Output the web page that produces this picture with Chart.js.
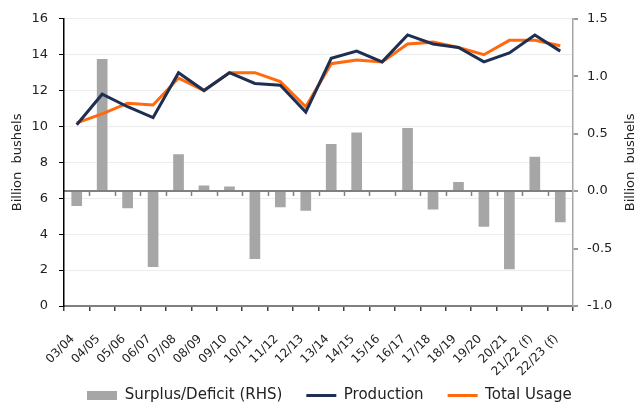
<!DOCTYPE html>
<html>
<head>
<meta charset="utf-8">
<script src="https://cdn.jsdelivr.net/npm/chart.js@4"></script>
<style>
  html, body { margin: 0; padding: 0; background: #fff; }
  #wrap { width: 639px; height: 407px; }
</style>
</head>
<body>
<div id="wrap"><canvas id="chart"></canvas></div>
<script>
const years = ['03/04','04/05','05/06','06/07','07/08','08/09','09/10','10/11','11/12','12/13',
  '13/14','14/15','15/16','16/17','17/18','18/19','19/20','20/21','21/22 (f)','22/23 (f)'];
const production = [10.1,11.8,11.1,10.5,13.0,12.0,13.0,12.4,12.3,10.8,13.8,14.2,13.6,15.1,14.6,14.4,13.6,14.1,15.1,14.2];
const totalUsage = [10.2,10.7,11.3,11.2,12.7,12.0,13.0,13.0,12.5,11.1,13.5,13.7,13.6,14.6,14.7,14.4,14.0,14.8,14.8,14.5];
const surplus = [-0.13,1.15,-0.15,-0.66,0.32,0.05,0.04,-0.59,-0.14,-0.17,0.41,0.51,0.01,0.55,-0.16,0.08,-0.31,-0.68,0.30,-0.27];

const FONT = 'DejaVu Sans, Verdana, sans-serif';

// legend swatch for the bars
const barSwatch = document.createElement('canvas');
barSwatch.width = 30; barSwatch.height = 9;
barSwatch.getContext('2d').fillStyle = '#a6a6a6';
barSwatch.getContext('2d').fillRect(0, 0, 30, 9);

// small ticks hanging off the zero line of the right axis
const zeroTicks = {
  id: 'zeroTicks',
  afterDatasetsDraw(chart) {
    const {ctx, scales: {x, y1}} = chart;
    const y0 = y1.getPixelForValue(0);
    ctx.save();
    ctx.strokeStyle = '#808080';
    ctx.lineWidth = 1.5;
    ctx.beginPath();
    for (let i = 1; i < years.length; i++) {
      const px = Math.round((x.getPixelForValue(i - 1) + x.getPixelForValue(i)) / 2) + 0.5;
      ctx.moveTo(px, y0);
      ctx.lineTo(px, y0 + 5);
    }
    ctx.stroke();
    ctx.restore();
  }
};

// right axis title reads bottom to top like the left one
const rightTitle = {
  id: 'rightTitle',
  afterDraw(chart) {
    const {ctx, chartArea} = chart;
    ctx.save();
    ctx.translate(631, (chartArea.top + chartArea.bottom) / 2);
    ctx.rotate(-Math.PI / 2);
    ctx.font = '13px ' + FONT;
    ctx.fillStyle = '#222';
    ctx.textAlign = 'center';
    ctx.textBaseline = 'middle';
    ctx.fillText('Billion  bushels', 0, 0);
    ctx.restore();
  }
};

const moveLegend = {
  id: 'moveLegend',
  afterLayout(chart) {
    const lg = chart.legend;
    const h = lg.height;
    lg.left += 10;
    lg.right += 10;
    lg.top = 364;
    lg.bottom = 364 + h;
  }
};

new Chart(document.getElementById('chart'), {
  data: {
    labels: years,
    datasets: [{
      type: 'bar',
      label: 'Surplus/Deficit (RHS)',
      data: surplus,
      yAxisID: 'y1',
      backgroundColor: '#a6a6a6',
      categoryPercentage: 1,
      barPercentage: 0.42,
      pointStyle: barSwatch,
      order: 1
    }, {
      type: 'line',
      label: 'Production',
      data: production,
      yAxisID: 'y',
      borderColor: '#1f2f52',
      borderWidth: 3,
      pointRadius: 0,
      tension: 0,
      pointStyle: 'line',
      order: 0
    }, {
      type: 'line',
      label: 'Total Usage',
      data: totalUsage,
      yAxisID: 'y',
      borderColor: '#ff6a0e',
      borderWidth: 3,
      pointRadius: 0,
      tension: 0,
      pointStyle: 'line',
      order: 0
    }]
  },
  options: {
    responsive: true,
    maintainAspectRatio: false,
    animation: false,
    layout: { padding: { top: 17, left: 0, right: 0, bottom: 0 } },
    plugins: {
      tooltip: { enabled: false },
      legend: {
        position: 'bottom',
        labels: {
          usePointStyle: true,
          pointStyleWidth: 30,
          boxHeight: 9,
          padding: 24,
          color: '#222',
          font: { family: FONT, size: 15 },
          sort: (a, b) => a.datasetIndex - b.datasetIndex
        }
      }
    },
    scales: {
      x: {
        offset: true,
        grid: { display: true, drawOnChartArea: false, offset: true, tickLength: 5, color: '#404040', lineWidth: 1.5 },
        border: { color: '#808080', width: 2 },
        ticks: { minRotation: 45, maxRotation: 45, autoSkip: false, color: '#222',
          font: { family: FONT, size: 12 }, padding: 21, labelOffset: -4 },
        afterFit: s => {
          s.height = 407 - 306 - s.chart.legend.height;
          s._computeLabelArea = () => null; // labels run into the legend band
        }
      },
      y: {
        position: 'left',
        min: 0, max: 16,
        ticks: { stepSize: 2, color: '#222', font: { family: FONT, size: 13 }, padding: 11 },
        grid: { color: '#ececec', tickColor: '#000', tickLength: 5 },
        border: { color: '#000', width: 1.5 },
        title: { display: true, text: 'Billion  bushels', color: '#222', font: { family: FONT, size: 13 }, padding: { top: 10, bottom: 0 } },
        afterFit: s => { s.width = 64; }
      },
      y1: {
        position: 'right',
        min: -1, max: 1.5,
        ticks: { stepSize: 0.5, color: '#222', font: { family: FONT, size: 13 }, padding: 9,
          callback: v => v.toFixed(1) },
        grid: { color: c => c.tick && c.tick.value === 0 ? '#808080' : 'rgba(0,0,0,0)', lineWidth: 2, tickColor: '#999', tickLength: 5 },
        border: { color: '#a6a6a6', width: 1.5 },
        afterFit: s => { s.width = 66; }
      }
    }
  },
  plugins: [zeroTicks, rightTitle, moveLegend]
});
</script>
</body>
</html>
